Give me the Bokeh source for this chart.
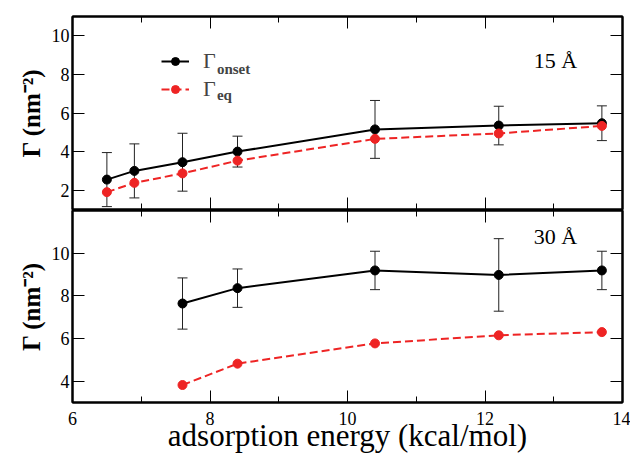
from bokeh.plotting import figure
from bokeh.layouts import column
from bokeh.models import (ColumnDataSource, LinearAxis, FixedTicker, Range1d, Whisker,
                          TeeHead, Legend, LegendItem, Label)
from bokeh.embed import file_html
from bokeh.resources import INLINE

# ---------------- data ----------------
x_top = [6.5, 6.9, 7.6, 8.4, 10.4, 12.2, 13.7]
onset_top = [2.55, 3.0, 3.45, 4.0, 5.15, 5.35, 5.47]
onset_top_err = [1.4, 1.4, 1.5, 0.8, 1.5, 1.0, 0.9]
eq_top = [1.9, 2.38, 2.87, 3.53, 4.66, 4.94, 5.33]

x_bot = [7.6, 8.4, 10.4, 12.2, 13.7]
onset_bot = [7.64, 8.36, 9.19, 8.98, 9.19]
onset_bot_err = [1.2, 0.9, 0.9, 1.7, 0.9]
eq_bot = [3.82, 4.82, 5.77, 6.15, 6.30]

x_ticks = [6, 8, 10, 12, 14]
x_minor = [7, 9, 11, 13]
y_ticks_top = [2, 4, 6, 8, 10]
y_ticks_bot = [4, 6, 8, 10]

FONT = "Liberation Serif"
RED = "#ee2424"


def style_axis(ax, labels=True):
    ax.axis_line_width = 2
    ax.major_tick_in = 12
    ax.major_tick_out = 0
    ax.minor_tick_in = 6
    ax.minor_tick_out = 0
    ax.major_tick_line_width = 1
    ax.minor_tick_line_width = 1
    ax.major_label_text_font = FONT
    ax.major_label_text_font_size = "18px"
    ax.major_label_text_font_style = "normal"
    ax.major_label_text_color = "black"
    ax.axis_label_text_font = FONT
    ax.axis_label_text_color = "black"
    if not labels:
        ax.major_label_text_font_size = "0px"
        ax.major_label_standoff = 0
        ax.major_label_text_alpha = 0


def make_panel(x, onset, err, eq, yr, yticks, height, bottom, top_border, bottom_border, tag, tag_y):
    p = figure(width=630, height=height, output_backend="svg", toolbar_location=None,
               x_range=Range1d(6, 14), y_range=Range1d(*yr),
               min_border_left=72, min_border_right=8,
               min_border_top=top_border, min_border_bottom=bottom_border)
    p.grid.visible = False
    p.outline_line_color = "black"
    p.outline_line_width = 2
    p.background_fill_color = "white"
    p.border_fill_color = "white"

    p.xaxis.ticker = FixedTicker(ticks=x_ticks, minor_ticks=x_minor)
    p.yaxis.ticker = FixedTicker(ticks=yticks, minor_ticks=[])
    style_axis(p.xaxis[0], labels=bottom)
    style_axis(p.yaxis[0], labels=True)
    p.yaxis.axis_label = "Γ (nm⁻²)"
    p.yaxis.axis_label_text_font_size = "25px"
    p.yaxis.axis_label_text_font_style = "bold"
    p.yaxis.axis_label_standoff = 4
    p.yaxis.major_label_standoff = 3
    if bottom:
        p.xaxis.axis_label = "adsorption energy (kcal/mol)"
        p.xaxis.axis_label_text_font_size = "31px"
        p.xaxis.axis_label_text_font_style = "normal"
        p.xaxis.axis_label_standoff = -10
        p.xaxis.major_label_standoff = 9

    ax_r = LinearAxis(ticker=FixedTicker(ticks=yticks, minor_ticks=[]))
    style_axis(ax_r, labels=False)
    p.add_layout(ax_r, "right")
    ax_t = LinearAxis(ticker=FixedTicker(ticks=x_ticks, minor_ticks=x_minor))
    style_axis(ax_t, labels=False)
    p.add_layout(ax_t, "above")

    src = ColumnDataSource(dict(x=x, onset=onset, eq=eq,
                                upper=[o + e for o, e in zip(onset, err)],
                                lower=[o - e for o, e in zip(onset, err)]))
    p.add_layout(Whisker(source=src, base="x", upper="upper", lower="lower",
                         line_color="#222222", line_width=1,
                         upper_head=TeeHead(size=10, line_color="#222222", line_width=1),
                         lower_head=TeeHead(size=10, line_color="#222222", line_width=1)))
    l1 = p.line("x", "onset", source=src, line_color="black", line_width=2)
    s1 = p.scatter("x", "onset", source=src, size=9, fill_color="black", line_color="black")
    l2 = p.line("x", "eq", source=src, line_color=RED, line_width=2, line_dash="8 4")
    s2 = p.scatter("x", "eq", source=src, size=9, fill_color=RED, line_color=RED)

    p.add_layout(Label(x=12.71, y=tag_y, text=tag, text_font=FONT, text_font_size="22px",
                       text_baseline="middle", text_color="black"))
    return p, (l1, s1, l2, s2)


top, (l1, s1, l2, s2) = make_panel(x_top, onset_top, onset_top_err, eq_top, (1, 11), y_ticks_top,
                                   210, False, 16, 1, "15 Å", 8.71)
bot, _ = make_panel(x_bot, onset_bot, onset_bot_err, eq_bot, (3, 12), y_ticks_bot,
                    247, True, 0, 55, "30 Å", 10.77)

legend = Legend(items=[LegendItem(label="Γ", renderers=[l1, s1]),
                       LegendItem(label="Γ", renderers=[l2, s2])],
                location=(89, 107), glyph_width=28, glyph_height=20, label_height=20,
                spacing=2, padding=0, margin=0, label_standoff=14,
                label_text_font=FONT, label_text_font_size="22px",
                background_fill_alpha=0, border_line_color=None)
top.add_layout(legend)
top.add_layout(Label(x=8.10, y=8.30, text="onset", text_font=FONT, text_font_size="15px",
                     text_font_style="bold", text_baseline="middle"))
top.add_layout(Label(x=8.10, y=6.95, text="eq", text_font=FONT, text_font_size="15px",
                     text_font_style="bold", text_baseline="middle"))

layout = column(top, bot, spacing=0)
open("out.html", "w").write(file_html(layout, INLINE))
